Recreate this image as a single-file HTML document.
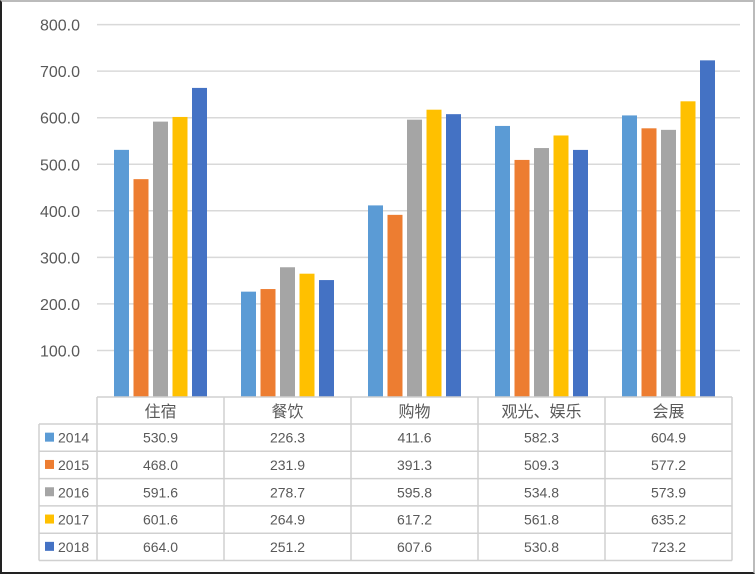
<!DOCTYPE html>
<html><head><meta charset="utf-8"><style>
body{margin:0;background:#fff}
#wrap{position:relative;width:755px;height:574px;overflow:hidden;background:#fff}
#frame{position:absolute;left:0;top:0;width:751px;height:570px;border:2px solid #222;border-top-color:#bbb;border-right-color:#bbb}
svg{position:absolute;left:0;top:0}
text{font-family:"Liberation Sans","Noto Sans CJK SC",sans-serif;fill:#595959}
</style></head><body>
<div id="wrap">
<div id="frame"></div>
<svg id="chart" width="755" height="574"></svg>
</div>
<script>
const categories=["住宿","餐饮","购物","观光、娱乐","会展"];
const years=["2014","2015","2016","2017","2018"];
const s2014=[530.9,226.3,411.6,582.3,604.9];
const s2015=[468.0,231.9,391.3,509.3,577.2];
const s2016=[591.6,278.7,595.8,534.8,573.9];
const s2017=[601.6,264.9,617.2,561.8,635.2];
const s2018=[664.0,251.2,607.6,530.8,723.2];
const yTicks=[100,200,300,400,500,600,700,800];
const colors=["#5b9bd5","#ed7d31","#a5a5a5","#ffc000","#4472c4"];
const series=[s2014,s2015,s2016,s2017,s2018];

const svg=document.getElementById('chart');
const NS="http://www.w3.org/2000/svg";
const plotL=97,plotR=732,y0=397,pxPer=0.4655;
const catW=(plotR-plotL)/categories.length;
function yScale(v){return y0-v*pxPer;}
function xCat(i){return plotL+catW*i;}
function mk(tag,attrs,parent){const e=document.createElementNS(NS,tag);for(const k in attrs)e.setAttribute(k,attrs[k]);(parent||svg).appendChild(e);return e;}

yTicks.forEach(t=>{
  const l=mk('line',{x1:plotL,x2:740,y1:yScale(t),y2:yScale(t),stroke:'#d9d9d9','stroke-width':1.5});
  
  
  const tx=mk('text',{x:80,y:yScale(t)+6,'text-anchor':'end','font-size':16});
  tx.textContent=t.toFixed(1);
  
  
});

const barW=15,step=19.5;
series.forEach((s,si)=>{
  s.forEach((v,ci)=>{
    const cx=xCat(ci)+catW/2;
    const x=cx-2*step-barW/2+si*step;
    const r=mk('rect',{x:x,y:yScale(v),width:barW,height:y0-yScale(v),fill:colors[si]});
    
    
  });
});

// data table
const tblTop=397,hdrH=27,rowH=27.3,leftX=39;
const tb=mk('g',{});


const tblBot=tblTop+hdrH+rowH*5;
mk('line',{x1:plotL,x2:plotR,y1:tblTop,y2:tblTop,stroke:'#d0d0d0','stroke-width':1.5},tb);
for(let i=0;i<=categories.length;i++){
  mk('line',{x1:xCat(i),x2:xCat(i),y1:tblTop,y2:tblBot,stroke:'#d0d0d0','stroke-width':1.5},tb);
}
mk('line',{x1:leftX,x2:leftX,y1:tblTop+hdrH,y2:tblBot,stroke:'#d0d0d0','stroke-width':1.5},tb);
for(let r=0;r<=5;r++){
  const y=tblTop+hdrH+r*rowH;
  mk('line',{x1:leftX,x2:plotR,y1:y,y2:y,stroke:'#d0d0d0','stroke-width':1.5},tb);
}
categories.forEach((c,ci)=>{
  const t=mk('text',{x:xCat(ci)+catW/2,y:tblTop+20,'text-anchor':'middle','font-size':16},tb);
  t.textContent=c;
  
  
});
series.forEach((s,si)=>{
  const yc=tblTop+hdrH+si*rowH+rowH/2;
  const k=mk('rect',{x:45,y:yc-5,width:9,height:9,fill:colors[si]},tb);
  
  
  const lt=mk('text',{x:58,y:yc+5,'font-size':14},tb);
  lt.textContent=years[si];
  
  
  s.forEach((v,ci)=>{
    const t=mk('text',{x:xCat(ci)+catW/2,y:yc+5,'text-anchor':'middle','font-size':14},tb);
    t.textContent=v.toFixed(1);
    
    
  });
});
</script>
</body></html>
